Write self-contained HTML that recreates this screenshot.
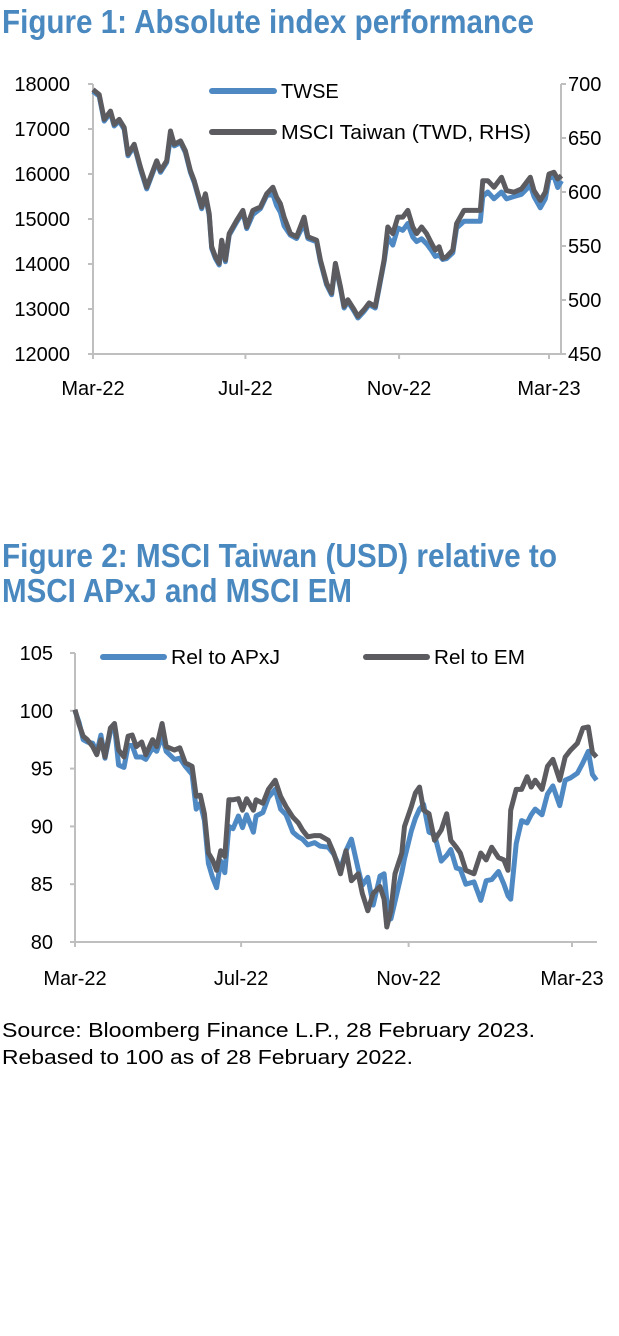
<!DOCTYPE html>
<html><head><meta charset="utf-8">
<style>
html,body{margin:0;padding:0;background:#fff;}
svg{display:block;}
text{font-family:"Liberation Sans Narrow","Liberation Sans",sans-serif;}
</style></head>
<body>
<svg id="root" width="619" height="1336" viewBox="0 0 619 1336" xmlns="http://www.w3.org/2000/svg">
<text x="2" y="33" font-size="33" font-weight="bold" fill="#4a88c0" textLength="532" lengthAdjust="spacingAndGlyphs">Figure 1: Absolute index performance</text>
<g id="chart1"></g>
<text x="2" y="567" font-size="33" font-weight="bold" fill="#4a88c0" textLength="555" lengthAdjust="spacingAndGlyphs">Figure 2: MSCI Taiwan (USD) relative to</text>
<text x="2" y="602" font-size="33" font-weight="bold" fill="#4a88c0" textLength="350" lengthAdjust="spacingAndGlyphs">MSCI APxJ and MSCI EM</text>
<g id="chart2"></g>
<text x="2" y="1037" font-size="20" fill="#000" textLength="533" lengthAdjust="spacingAndGlyphs">Source: Bloomberg Finance L.P., 28 February 2023.</text>
<text x="2" y="1064" font-size="20" fill="#000" textLength="411" lengthAdjust="spacingAndGlyphs">Rebased to 100 as of 28 February 2022.</text>
</svg>
<script>
// ---- Chart 1 data ----
const c1Days = [0,5,9,14,17,21,25,28,33,38,43,46,51,54,59,62,65,70,74,78,81,84,87,90,93,95,98,101,103,106,109,115,120,123,128,134,139,144,147,150,153,158,163,169,172,179,182,187,191,194,198,201,204,209,212,217,221,226,229,233,236,240,244,248,252,256,259,263,267,271,274,277,280,283,288,291,297,305,310,312,316,321,327,331,337,343,350,353,358,362,365,369,372,375];
const twse = [17838,17728,17176,17360,17066,17176,16993,16404,16625,16110,15669,15890,16257,16037,16257,16809,16625,16699,16478,16037,15816,15522,15228,15522,15081,14346,14125,13978,14493,14051,14640,14934,15154,14787,15100,15228,15522,15550,15300,15150,14850,14640,14566,14900,14566,14493,14051,13537,13316,13978,13463,13022,13169,12949,12801,12949,13096,13022,13463,14051,14603,14420,14800,14750,14900,14600,14500,14560,14450,14300,14170,14200,14100,14120,14250,14800,14950,14950,14950,15500,15600,15450,15600,15450,15500,15550,15750,15500,15250,15450,15900,15950,15700,15850];
const msciTw = [694.8,690.2,667.2,674.9,662.6,667.2,659.6,635.0,644.2,622.8,604.4,613.6,628.9,619.7,628.9,656.5,644.2,647.3,638.1,619.7,610.5,598.3,586.0,598.3,579.9,549.3,540.1,533.9,555.4,537.0,561.5,573.8,583.0,567.6,583.0,586.0,598.3,604.4,595.2,589.1,576.8,561.5,558.5,576.8,558.5,555.4,537.0,515.6,506.4,533.9,512.5,494.1,500.2,491.1,484.9,491.1,497.2,494.1,512.5,537.0,567.6,561.5,576.8,576.8,583.0,567.6,561.5,567.6,561.5,552.3,546.2,549.3,538.5,540.1,546.2,570.7,583.0,583.0,583.0,610.5,610.5,604.4,613.6,601.3,599.8,602.9,613.6,601.3,592.2,599.8,616.7,618.2,612.1,615.1];
const c1LeftTicks = [12000,13000,14000,15000,16000,17000,18000];
const c1RightTicks = [450,500,550,600,650,700];
const c1XLabels = ['Mar-22','Jul-22','Nov-22','Mar-23'];
const c1XTickDays = [0,122,245,365];

// ---- Chart 2 data ----
const c2Days = [0,3,6,9,13,16,19,22,26,29,32,36,39,42,45,49,52,57,60,64,67,73,77,81,86,89,92,95,98,101,104,107,110,113,116,120,123,126,131,133,138,142,147,151,155,160,164,167,171,176,180,186,190,195,199,203,208,211,215,219,224,227,229,232,235,240,242,247,250,253,256,260,264,269,273,276,280,283,287,293,298,302,306,311,315,318,320,324,328,332,335,338,343,347,351,356,360,364,369,373,377,380,383];
const relEM = [100.1,98.8,97.8,97.5,96.9,96.2,97.5,96.0,98.5,98.9,96.6,96.0,97.8,97.9,96.9,97.3,96.2,97.5,96.9,98.9,96.9,96.6,96.8,95.5,95.2,92.6,92.7,91.1,87.7,87.1,86.2,87.9,87.4,92.3,92.3,92.4,91.4,92.4,91.4,92.3,92.0,93.2,94.0,92.6,91.7,90.8,90.3,89.7,89.1,89.2,89.2,88.8,87.7,85.9,87.9,85.3,85.9,84.2,82.7,84.2,84.8,83.7,81.3,82.7,85.9,87.7,90.0,91.7,92.9,93.4,91.4,91.1,88.8,89.7,91.1,88.8,88.2,87.7,86.2,85.9,87.7,87.1,88.2,87.3,87.1,86.2,91.4,93.2,93.2,94.3,93.4,94.0,93.2,95.2,95.8,94.0,96.0,96.6,97.2,98.5,98.6,96.4,96.0];
const relAPxJ = [100.0,99.0,97.5,97.3,97.2,96.4,97.9,95.9,98.2,98.7,95.3,95.1,97.0,97.0,96.0,96.0,95.8,96.8,96.5,97.8,96.5,95.8,95.9,95.2,94.5,91.5,92.0,90.5,86.8,85.6,84.7,87.0,86.0,90.0,89.8,90.9,89.9,91.0,89.5,90.9,91.2,92.5,93.2,91.5,91.0,89.5,89.1,88.9,88.4,88.6,88.3,88.2,87.6,86.3,87.9,88.9,86.3,84.9,85.6,83.2,85.7,85.9,83.6,82.0,83.5,86.0,87.2,89.6,90.7,91.5,91.9,89.5,89.3,87.0,87.5,88.0,86.4,86.3,85.0,85.2,83.6,85.3,85.4,86.1,85.0,84.0,83.7,88.5,90.5,90.3,91.0,91.5,91.0,92.8,93.5,91.8,94.0,94.2,94.6,95.5,96.5,94.5,94.0];
const c2YTicks = [80,85,90,95,100,105];
const c2XLabels = ['Mar-22','Jul-22','Nov-22','Mar-23'];
const c2XTickDays = [0,122,245,365];

const NS = 'http://www.w3.org/2000/svg';
const BLUE = '#4e89c4', GRAY = '#5b5b60', AX = '#bfbfbf';
function mk(parent, tag, attrs){
  const e = document.createElementNS(NS, tag);
  for (const k in attrs) e.setAttribute(k, attrs[k]);
  parent.appendChild(e);
  return e;
}
function pathD(days, vals, xs, ys){
  return days.map((d,i)=>(i?'L':'M')+xs(d).toFixed(1)+','+ys(vals[i]).toFixed(1)).join(' ');
}

// ===== Chart 1 =====
(function(){
  const g = document.getElementById('chart1');
  const x0 = 93, x1 = 549;      // day 0 and day 365
  const yTop = 84, yBot = 354;
  const xs = d => x0 + d*(x1-x0)/365;
  const yl = v => yBot - (v-12000)*(yBot-yTop)/6000;
  const yr = v => yBot - (v-450)*(yBot-yTop)/250;
  const axL = mk(g,'line',{x1:x0,y1:yTop,x2:x0,y2:yBot,stroke:AX,'stroke-width':2});
  
  
  const axR = mk(g,'line',{x1:561,y1:yTop,x2:561,y2:yBot,stroke:AX,'stroke-width':2});
  
  
  const axX = mk(g,'line',{x1:x0,y1:yBot,x2:561,y2:yBot,stroke:AX,'stroke-width':2});
  
  
  c1LeftTicks.forEach(v=>{
    mk(g,'line',{x1:x0-5,y1:yl(v),x2:x0,y2:yl(v),stroke:AX,'stroke-width':2});
    const t = mk(g,'text',{x:70,y:yl(v)+7,'font-size':20,'text-anchor':'end',fill:'#000'});
    t.textContent = v;
    
    
  });
  c1RightTicks.forEach(v=>{
    mk(g,'line',{x1:561,y1:yr(v),x2:566,y2:yr(v),stroke:AX,'stroke-width':2});
    const t = mk(g,'text',{x:568,y:yr(v)+7,'font-size':20,fill:'#000'});
    t.textContent = v;
    
    
  });
  c1XTickDays.forEach((d,i)=>{
    mk(g,'line',{x1:xs(d),y1:yBot,x2:xs(d),y2:yBot+5,stroke:AX,'stroke-width':2});
    const t = mk(g,'text',{x:xs(d),y:395,'font-size':20,'text-anchor':'middle',fill:'#000'});
    t.textContent = c1XLabels[i];
    
    
  });
  const pb = mk(g,'path',{d:pathD(c1Days,twse,xs,yl),fill:'none',stroke:BLUE,'stroke-width':5,'stroke-linejoin':'round'});
  
  
  const pg = mk(g,'path',{d:pathD(c1Days,msciTw,xs,yr),fill:'none',stroke:GRAY,'stroke-width':5,'stroke-linejoin':'round'});
  
  
  // legend
  const l1 = mk(g,'line',{x1:212,y1:91,x2:274,y2:91,stroke:BLUE,'stroke-width':6,'stroke-linecap':'round'});
  
  
  const lt1 = mk(g,'text',{x:281,y:98,'font-size':20,fill:'#000'});
  lt1.textContent = 'TWSE';
  
  
  const l2 = mk(g,'line',{x1:212,y1:132,x2:274,y2:132,stroke:GRAY,'stroke-width':6,'stroke-linecap':'round'});
  
  
  const lt2 = mk(g,'text',{x:281,y:139,'font-size':20,fill:'#000',textLength:250,lengthAdjust:'spacingAndGlyphs'});
  lt2.textContent = 'MSCI Taiwan (TWD, RHS)';
  
  
})();

// ===== Chart 2 =====
(function(){
  const g = document.getElementById('chart2');
  const x0 = 75, x1 = 572;
  const yTop = 653, yBot = 942;
  const xs = d => x0 + d*(x1-x0)/365;
  const ys = v => yBot - (v-80)*(yBot-yTop)/25;
  const axY = mk(g,'line',{x1:x0,y1:yTop,x2:x0,y2:yBot,stroke:AX,'stroke-width':2});
  
  
  const axX = mk(g,'line',{x1:x0,y1:yBot,x2:597,y2:yBot,stroke:AX,'stroke-width':2});
  
  
  c2YTicks.forEach(v=>{
    mk(g,'line',{x1:x0-5,y1:ys(v),x2:x0,y2:ys(v),stroke:AX,'stroke-width':2});
    const t = mk(g,'text',{x:53,y:ys(v)+7,'font-size':20,'text-anchor':'end',fill:'#000'});
    t.textContent = v;
    
    
  });
  c2XTickDays.forEach((d,i)=>{
    mk(g,'line',{x1:xs(d),y1:yBot,x2:xs(d),y2:yBot+5,stroke:AX,'stroke-width':2});
    const t = mk(g,'text',{x:xs(d),y:985,'font-size':20,'text-anchor':'middle',fill:'#000'});
    t.textContent = c2XLabels[i];
    
    
  });
  const pb = mk(g,'path',{d:pathD(c2Days,relAPxJ,xs,ys),fill:'none',stroke:BLUE,'stroke-width':5,'stroke-linejoin':'round'});
  
  
  const pg = mk(g,'path',{d:pathD(c2Days,relEM,xs,ys),fill:'none',stroke:GRAY,'stroke-width':5,'stroke-linejoin':'round'});
  
  
  const l1 = mk(g,'line',{x1:103,y1:657,x2:164,y2:657,stroke:BLUE,'stroke-width':6,'stroke-linecap':'round'});
  
  
  const lt1 = mk(g,'text',{x:171,y:664,'font-size':20,fill:'#000',textLength:109,lengthAdjust:'spacingAndGlyphs'});
  lt1.textContent = 'Rel to APxJ';
  
  
  const l2 = mk(g,'line',{x1:366,y1:657,x2:427,y2:657,stroke:GRAY,'stroke-width':6,'stroke-linecap':'round'});
  
  
  const lt2 = mk(g,'text',{x:434,y:664,'font-size':20,fill:'#000',textLength:91,lengthAdjust:'spacingAndGlyphs'});
  lt2.textContent = 'Rel to EM';
  
  
})();
</script>
</body></html>
